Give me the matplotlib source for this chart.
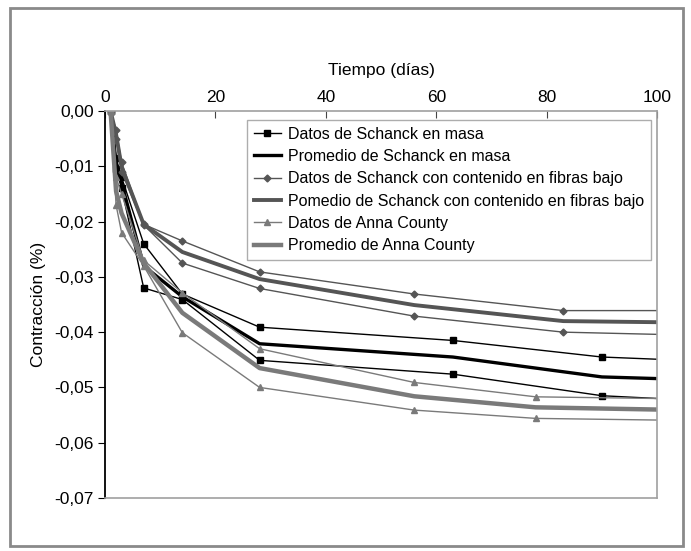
import matplotlib
matplotlib.use("Agg")
import matplotlib.pyplot as plt
from matplotlib.patches import Rectangle

plt.rcParams['font.family'] = ['Liberation Sans', 'DejaVu Sans']

# Schanck, plain concrete (two specimens + average)
dias_masa = [1, 2, 3, 7, 14, 28, 63, 90, 100]
masa_1 = [0.0, -0.0085, -0.0120, -0.0240, -0.0331, -0.0391, -0.0415, -0.0445, -0.0449]
masa_2 = [0.0, -0.0105, -0.0140, -0.0320, -0.0341, -0.0451, -0.0476, -0.0515, -0.0520]
masa_prom = [0.0, -0.0095, -0.0130, -0.0280, -0.0336, -0.0421, -0.0445, -0.0481, -0.0484]

# Schanck, low fibre content
dias_fibras = [1, 2, 3, 7, 14, 28, 56, 83, 100]
fibras_1 = [0.0, -0.0034, -0.0093, -0.0205, -0.0235, -0.0291, -0.0331, -0.0361, -0.0361]
fibras_2 = [0.0, -0.0050, -0.0110, -0.0206, -0.0275, -0.0321, -0.0371, -0.0400, -0.0404]
fibras_prom = [0.0, -0.0042, -0.0101, -0.0205, -0.0255, -0.0304, -0.0351, -0.0380, -0.0382]

# Anna County
dias_anna = [1, 2, 3, 7, 14, 28, 56, 78, 100]
anna_1 = [0.0, -0.0120, -0.0150, -0.0270, -0.0329, -0.0430, -0.0491, -0.0517, -0.0520]
anna_2 = [0.0, -0.0170, -0.0220, -0.0280, -0.0401, -0.0500, -0.0541, -0.0556, -0.0559]
anna_prom = [0.0, -0.0145, -0.0185, -0.0275, -0.0365, -0.0465, -0.0516, -0.0536, -0.0540]

etiquetas = [
    "Datos de Schanck en masa",
    "Promedio de Schanck en masa",
    "Datos de Schanck con contenido en fibras bajo",
    "Pomedio de Schanck con contenido en fibras bajo",
    "Datos de Anna County",
    "Promedio de Anna County",
]

x_ticks = [0, 20, 40, 60, 80, 100]
y_ticks = [0.0, -0.01, -0.02, -0.03, -0.04, -0.05, -0.06, -0.07]

NEGRO = "#000000"
GRIS_OSC = "#555555"
GRIS = "#7a7a7a"

fig = plt.figure(figsize=(6.91, 5.51), dpi=100)
fig.patches.append(Rectangle((0.0145, 0.009), 0.974, 0.977, transform=fig.transFigure,
                             fill=False, edgecolor="#8a8a8a", linewidth=2.0))
ax = fig.add_axes([0.152, 0.0962, 0.799, 0.7023])

mk = dict(markevery=slice(0, -1))

ax.plot(dias_masa, masa_1, color=NEGRO, lw=1.0, marker="s", ms=5, label=etiquetas[0], **mk)
ax.plot(dias_masa, masa_2, color=NEGRO, lw=1.0, marker="s", ms=5, **mk)
ax.plot(dias_masa, masa_prom, color=NEGRO, lw=2.4, label=etiquetas[1])

ax.plot(dias_fibras, fibras_1, color=GRIS_OSC, lw=1.0, marker="D", ms=3.5, label=etiquetas[2], **mk)
ax.plot(dias_fibras, fibras_2, color=GRIS_OSC, lw=1.0, marker="D", ms=3.5, **mk)
ax.plot(dias_fibras, fibras_prom, color=GRIS_OSC, lw=2.8, label=etiquetas[3])

ax.plot(dias_anna, anna_1, color=GRIS, lw=1.0, marker="^", ms=5, label=etiquetas[4], **mk)
ax.plot(dias_anna, anna_2, color=GRIS, lw=1.0, marker="^", ms=5, **mk)
ax.plot(dias_anna, anna_prom, color=GRIS, lw=3.2, label=etiquetas[5])

ax.set_xlim(0, 100)
ax.set_ylim(-0.07, 0.0)

ax.xaxis.set_label_position("top")
ax.xaxis.tick_top()
ax.set_xticks(x_ticks)
ax.set_xticklabels([str(v) for v in x_ticks], fontsize=12.5)
ax.tick_params(axis="x", direction="in", length=5, color="#444444", pad=4)
ax.set_xlabel("Tiempo (días)", fontsize=12.5, labelpad=11)

ax.set_yticks(y_ticks)
ax.set_yticklabels([f"{v:.2f}".replace(".", ",").replace("-0,00", "0,00") for v in y_ticks], fontsize=12.5)
ax.tick_params(axis="y", direction="out", length=5, color="#000000", pad=3)
ax.set_ylabel("Contracción (%)", fontsize=12.5, labelpad=6)

for lado in ("top", "right", "bottom"):
    ax.spines[lado].set_color("#a0a0a0")
    ax.spines[lado].set_linewidth(1.2)
ax.spines["left"].set_color("#000000")
ax.spines["left"].set_linewidth(1.3)

leg = ax.legend(loc="upper left", bbox_to_anchor=(0.257, 0.977), borderaxespad=0,
                fontsize=11.5, frameon=True, fancybox=False, handlelength=1.7,
                handletextpad=0.45, labelspacing=0.46, borderpad=0.42)
leg.get_frame().set_edgecolor("#999999")
leg.get_frame().set_linewidth(1.0)

fig.savefig("out.png", dpi=100)
